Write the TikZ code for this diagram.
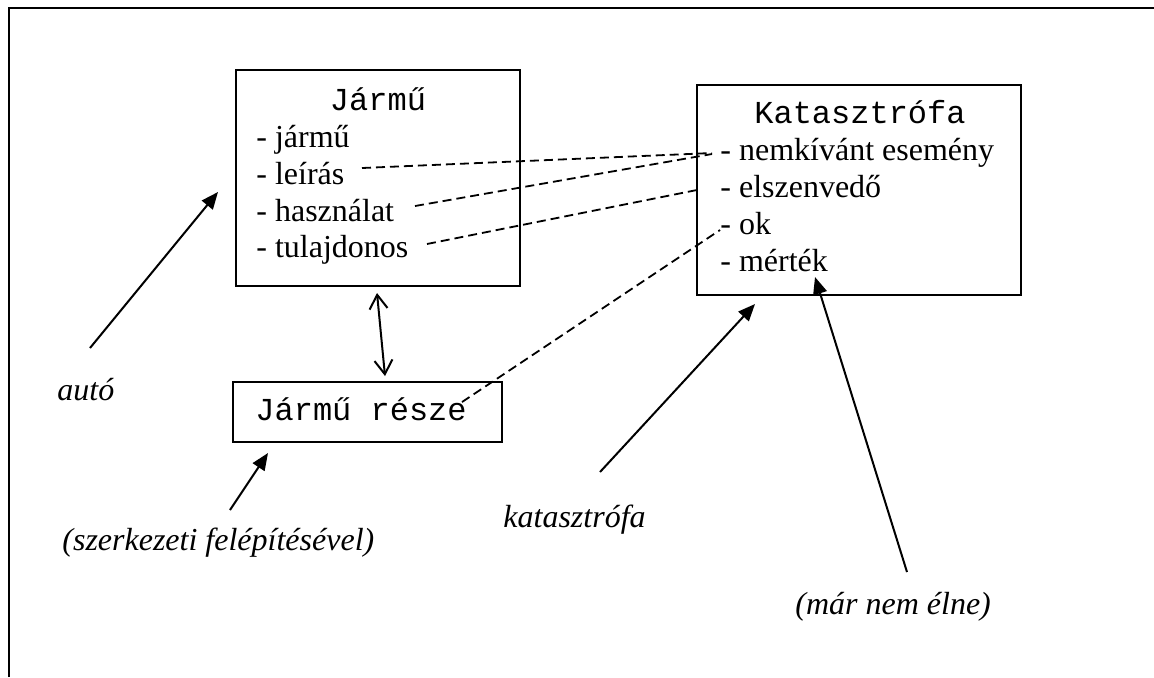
\documentclass[tikz,border=0pt]{standalone}
\usepackage{fontspec}
\setmainfont{Liberation Serif}
\setmonofont{Liberation Mono}
\usetikzlibrary{arrows.meta}
\begin{document}
\begin{tikzpicture}[x=0.5pt,y=-0.5pt,
  box/.style={draw,line width=0.75pt,inner sep=0pt},
  item/.style={anchor=base west,inner sep=0pt,font=\fontsize{16}{18}\selectfont},
  ttl/.style={anchor=base,inner sep=0pt,font=\fontsize{16}{18}\ttfamily},
  lbl/.style={anchor=base west,inner sep=0pt,font=\fontsize{16}{18}\itshape},
  link/.style={dash pattern=on 4.5pt off 2.5pt,line width=0.9pt},
  pointer/.style={line width=1pt,-{Triangle[length=8.5pt,width=7pt]}},
  twoway/.style={line width=1pt,{Straight Barb[length=7pt,width=9pt]}-{Straight Barb[length=7pt,width=9pt]}}]
\useasboundingbox (0,0) rectangle (1154,677);
% outer frame
\draw[line width=1.1pt] (9,677) -- (9,8) -- (1154,8);
% boxes
\node[box,minimum width=142pt,minimum height=108pt] (jbox) at (378,178) {};
\node[box,minimum width=162pt,minimum height=105pt] (kbox) at (859,190) {};
\node[box,minimum width=134.5pt,minimum height=30pt] (rbox) at (367.5,412) {};
% Jármű
\node[ttl] (jtitle) at (378,110) {Jármű};
\node[item] (jarmu) at (256,147) {- jármű};
\node[item] (leiras) at (256,184) {- leírás};
\node[item] (hasznalat) at (256,221) {- használat};
\node[item] (tulaj) at (256,257) {- tulajdonos};
% Katasztrófa
\node[ttl] (ktitle) at (860,123) {Katasztrófa};
\node[item] (nemk) at (720,160) {- nemkívánt esemény};
\node[item] (elsz) at (720,197) {- elszenvedő};
\node[item] (ok) at (720,234) {- ok};
\node[item] (mertek) at (720,271) {- mérték};
% Jármű része
\node[anchor=base west,inner sep=0pt,font=\fontsize{16}{18}\ttfamily] (resze) at (255,420) {Jármű része};
% labels
\node[lbl] (auto) at (57,400) {autó};
\node[lbl] (szerk) at (62,550) {(szerkezeti felépítésével)};
\node[lbl] (katl) at (503,527) {katasztrófa};
\node[lbl] (marnem) at (795,614) {(már nem élne)};
% connector end points
\coordinate (d1s) at (362,168); \coordinate (d1e) at (712,153);
\coordinate (d2s) at (415,206); \coordinate (d2e) at (712,154);
\coordinate (d3s) at (427,244); \coordinate (d3e) at (697,190);
\coordinate (d4s) at (462,402); \coordinate (d4e) at (720,230);
\coordinate (a1s) at (90,348);  \coordinate (a1e) at (218,192);
\coordinate (a2s) at (230,510); \coordinate (a2e) at (268,453);
\coordinate (a3s) at (600,472); \coordinate (a3e) at (755,304);
\coordinate (a4s) at (907,572); \coordinate (a4e) at (815,277);
\coordinate (b1) at (377,293);  \coordinate (b2) at (385,376);
% dashed links
\draw[link] (d1s) -- (d1e);
\draw[link] (d2s) -- (d2e);
\draw[link] (d3s) -- (d3e);
\draw[link] (d4s) -- (d4e);
% arrows
\draw[pointer] (a1s) -- (a1e);
\draw[pointer] (a2s) -- (a2e);
\draw[pointer] (a3s) -- (a3e);
\draw[pointer] (a4s) -- (a4e);
\draw[twoway] (b1) -- (b2);
\end{tikzpicture}
\end{document}
